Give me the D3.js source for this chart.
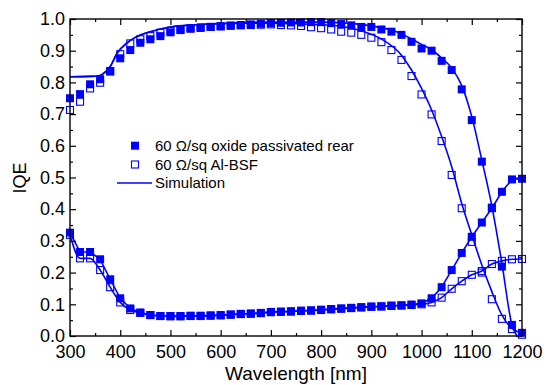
<!DOCTYPE html>
<html lang="en">
<head>
<meta charset="UTF-8">
<script src="https://d3js.org/d3.v7.min.js"></script>
<title>IQE</title>
<style>
    body { margin: 0; background: #fff; }
    text { font-family: "Liberation Sans", Arial, sans-serif; fill: #000; }
</style>
</head>
<body>
<svg width="547" height="385"></svg>
<script>
    var width = 547, height = 385;
    var margin = {left: 70, top: 19, right: 25, bottom: 49};
    var blue = "#0000ff";

    // measured wavelengths (nm)
    var wavelengths = [300, 320, 340, 360, 380, 400, 420, 440, 460, 480, 500, 520, 540, 560, 580, 600,
        620, 640, 660, 680, 700, 720, 740, 760, 780, 800, 820, 840, 860, 880, 900, 920, 940, 960, 980,
        1000, 1020, 1040, 1060, 1080, 1100, 1120, 1140, 1160, 1180, 1200];

    // 60 ohm/sq oxide passivated rear (filled)
    var iqeOxide = [0.750, 0.763, 0.794, 0.810, 0.834, 0.876, 0.902, 0.925, 0.936, 0.946, 0.958, 0.965,
        0.970, 0.973, 0.975, 0.977, 0.979, 0.981, 0.983, 0.985, 0.987, 0.988, 0.989, 0.989, 0.990, 0.990,
        0.987, 0.984, 0.980, 0.975, 0.975, 0.967, 0.960, 0.950, 0.928, 0.907, 0.900, 0.868, 0.839, 0.778,
        0.681, 0.550, 0.405, 0.219, 0.035, 0.010];
    var reflOxide = [0.326, 0.265, 0.265, 0.242, 0.179, 0.119, 0.087, 0.074, 0.066, 0.063, 0.063, 0.063,
        0.064, 0.064, 0.065, 0.066, 0.068, 0.070, 0.071, 0.073, 0.076, 0.077, 0.078, 0.080, 0.081, 0.083,
        0.085, 0.087, 0.089, 0.091, 0.093, 0.094, 0.096, 0.097, 0.099, 0.103, 0.119, 0.154, 0.208, 0.262,
        0.313, 0.358, 0.403, 0.455, 0.494, 0.496];

    // 60 ohm/sq Al-BSF (open)
    var iqeBsf = [0.713, 0.739, 0.781, 0.799, 0.836, 0.889, 0.923, 0.936, 0.946, 0.957, 0.963, 0.967,
        0.970, 0.972, 0.975, 0.977, 0.979, 0.980, 0.981, 0.982, 0.983, 0.981, 0.980, 0.978, 0.974, 0.971,
        0.967, 0.960, 0.957, 0.950, 0.941, 0.927, 0.902, 0.871, 0.820, 0.762, 0.699, 0.615, 0.508, 0.403,
        0.297, 0.200, 0.116, 0.054, 0.022, 0.004];
    var reflBsf = [0.319, 0.245, 0.245, 0.208, 0.154, 0.106, 0.082, 0.073, 0.066, 0.063, 0.062, 0.062,
        0.063, 0.063, 0.064, 0.065, 0.067, 0.069, 0.070, 0.072, 0.075, 0.076, 0.077, 0.079, 0.080, 0.082,
        0.084, 0.086, 0.088, 0.090, 0.092, 0.093, 0.095, 0.096, 0.098, 0.100, 0.106, 0.121, 0.149, 0.173,
        0.193, 0.205, 0.227, 0.237, 0.242, 0.243];

    // simulation curves
    var simOxideWl = [300, 340, 355, 365, 380, 395, 410, 430, 460, 500, 550, 600, 700, 800, 850, 900,
        950, 1000, 1020, 1040, 1060, 1080, 1100, 1120, 1140, 1160, 1180, 1190];
    var simOxideIqe = [0.818, 0.819, 0.820, 0.826, 0.850, 0.895, 0.920, 0.942, 0.960, 0.975, 0.982, 0.986,
        0.990, 0.990, 0.987, 0.978, 0.960, 0.920, 0.903, 0.877, 0.845, 0.790, 0.692, 0.555, 0.410, 0.229,
        0.035, 0.000];
    var simBsfWl = [300, 340, 355, 365, 380, 395, 410, 430, 460, 500, 550, 600, 700, 800, 840, 880, 920,
        960, 980, 1000, 1020, 1040, 1060, 1080, 1100, 1120, 1140, 1160, 1180, 1200];
    var simBsfIqe = [0.818, 0.819, 0.820, 0.826, 0.850, 0.895, 0.920, 0.942, 0.960, 0.975, 0.982, 0.985,
        0.987, 0.982, 0.977, 0.963, 0.937, 0.886, 0.839, 0.781, 0.713, 0.629, 0.534, 0.418, 0.319, 0.224,
        0.140, 0.066, 0.024, 0.009];

    var legendLabels = ["60 \u03A9/sq oxide passivated rear", "60 \u03A9/sq Al-BSF", "Simulation"];

    var svg = d3.select("svg");
    var iw = width - margin.left - margin.right, ih = height - margin.top - margin.bottom;
    var g = svg.append("g").attr("transform", "translate(" + margin.left + "," + margin.top + ")");

    var x = d3.scaleLinear().domain([300, 1200]).range([0, iw]);
    var y = d3.scaleLinear().domain([0, 1]).range([ih, 0]);

    var majorX = d3.range(300, 1201, 100), minorX = d3.range(350, 1200, 100);
    var majorY = d3.range(0, 1.001, 0.1), minorY = d3.range(0.05, 1, 0.1);

    function styleAxis(sel) {
        sel.select(".domain").remove();
        sel.selectAll("line").attr("stroke", "#000").attr("stroke-width", 1.2);
        sel.selectAll("text").style("font-size", "18px").style("font-family", "Liberation Sans, Arial, sans-serif");
    }

    // bottom / left with labels
    g.append("g").attr("transform", "translate(0," + ih + ")")
        .call(d3.axisBottom(x).tickValues(majorX).tickSize(-6).tickPadding(9).tickFormat(d3.format("d")))
        .call(styleAxis);
    g.append("g").attr("transform", "translate(0," + ih + ")")
        .call(d3.axisBottom(x).tickValues(minorX).tickSize(-3).tickFormat(""))
        .call(styleAxis);
    g.append("g")
        .call(d3.axisLeft(y).tickValues(majorY).tickSize(-6).tickPadding(5).tickFormat(d3.format(".1f")))
        .call(styleAxis);
    g.append("g")
        .call(d3.axisLeft(y).tickValues(minorY).tickSize(-3).tickFormat(""))
        .call(styleAxis);
    // top / right mirrored ticks
    g.append("g").call(d3.axisTop(x).tickValues(majorX).tickSize(-6).tickFormat("")).call(styleAxis);
    g.append("g").call(d3.axisTop(x).tickValues(minorX).tickSize(-3).tickFormat("")).call(styleAxis);
    g.append("g").attr("transform", "translate(" + iw + ",0)")
        .call(d3.axisRight(y).tickValues(majorY).tickSize(-6).tickFormat("")).call(styleAxis);
    g.append("g").attr("transform", "translate(" + iw + ",0)")
        .call(d3.axisRight(y).tickValues(minorY).tickSize(-3).tickFormat("")).call(styleAxis);

    var plot = g.append("g");
    plot.append("clipPath").attr("id", "clip").append("rect")
        .attr("x", 0).attr("y", -5).attr("width", iw).attr("height", ih + 5);

    var lineXY = d3.line().x(function(d) { return x(d[0]); }).y(function(d) { return y(d[1]); });

    function drawLine(xs, ys, curve) {
        plot.append("path")
            .datum(d3.zip(xs, ys))
            .attr("clip-path", "url(#clip)")
            .attr("fill", "none")
            .attr("stroke", blue)
            .attr("stroke-width", 1.6)
            .attr("d", lineXY.curve(curve));
    }

    drawLine(simOxideWl, simOxideIqe, d3.curveMonotoneX);
    drawLine(simBsfWl, simBsfIqe, d3.curveMonotoneX);
    drawLine(wavelengths, reflOxide, d3.curveLinear);
    drawLine(wavelengths, reflBsf, d3.curveMonotoneX);

    var ms = 8;
    function drawMarkers(ys, filled) {
        plot.append("g").selectAll("rect")
            .data(d3.zip(wavelengths, ys))
            .join("rect")
            .attr("x", function(d) { return x(d[0]) - (filled ? ms / 2 : ms / 2 - 0.5); })
            .attr("y", function(d) { return y(d[1]) - (filled ? ms / 2 : ms / 2 - 0.5); })
            .attr("width", filled ? ms : ms - 1)
            .attr("height", filled ? ms : ms - 1)
            .attr("fill", filled ? blue : "none")
            .attr("stroke", blue)
            .attr("stroke-width", filled ? 0 : 1.1);
    }
    drawMarkers(reflBsf, false);
    drawMarkers(iqeBsf, false);
    drawMarkers(reflOxide, true);
    drawMarkers(iqeOxide, true);

    // frame
    g.append("rect").attr("width", iw).attr("height", ih)
        .attr("fill", "none").attr("stroke", "#000").attr("stroke-width", 1.4);

    // axis titles
    svg.append("text")
        .attr("x", margin.left + iw / 2).attr("y", 380)
        .attr("text-anchor", "middle").style("font-size", "19px")
        .text("Wavelength [nm]");
    svg.append("text")
        .attr("transform", "translate(26,178) rotate(-90)")
        .attr("text-anchor", "middle").style("font-size", "18px")
        .text("IQE");

    // legend
    var legend = svg.append("g");
    var ly = [145.7, 164.5, 183];
    legend.append("rect").attr("x", 131).attr("y", ly[0] - 4).attr("width", 8).attr("height", 8).attr("fill", blue);
    legend.append("rect").attr("x", 131.5).attr("y", ly[1] - 3.5).attr("width", 7).attr("height", 7)
        .attr("fill", "none").attr("stroke", blue).attr("stroke-width", 1.1);
    legend.append("line").attr("x1", 117).attr("x2", 152).attr("y1", ly[2]).attr("y2", ly[2])
        .attr("stroke", blue).attr("stroke-width", 1.6);
    legend.selectAll("text.lg")
        .data(legendLabels)
        .join("text")
        .attr("class", "lg")
        .attr("x", 155)
        .attr("y", function(d, i) { return ly[i] + 5; })
        .style("font-size", "15px")
        .text(function(d) { return d; });
</script>
</body>
</html>
